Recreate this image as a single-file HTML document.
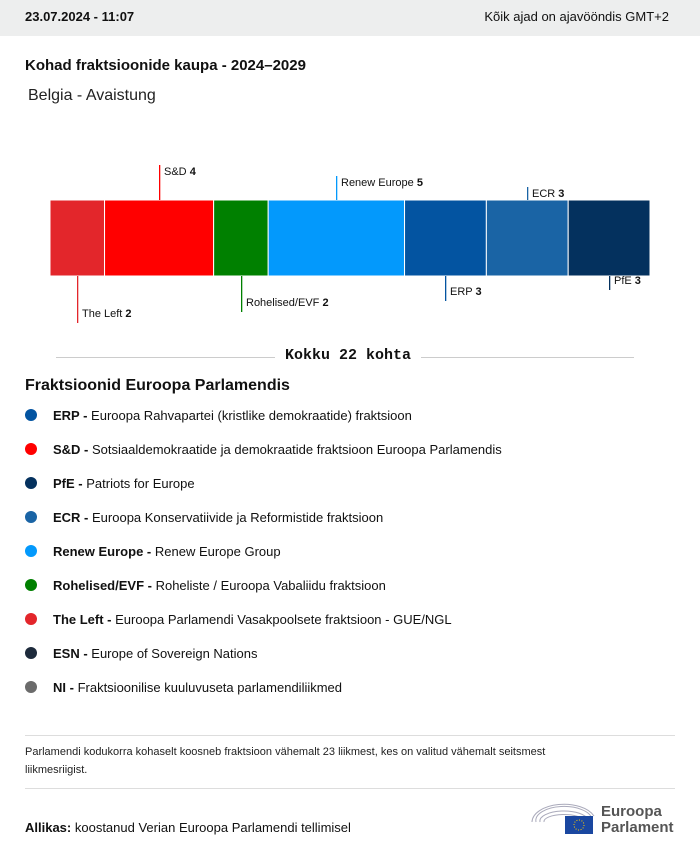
<!DOCTYPE html>
<html><head><meta charset="utf-8">
<style>
*{margin:0;padding:0;box-sizing:border-box}
body{width:700px;height:853px;background:#fff;font-family:"Liberation Sans",sans-serif;color:#111;position:relative;overflow:hidden}
.abs{position:absolute;white-space:nowrap}
.hdr{position:absolute;left:0;top:0;width:700px;height:36px;background:#edeeee}
.leg{position:absolute;left:25px;font-size:13px;white-space:nowrap}
.dot{display:inline-block;width:12px;height:12px;border-radius:50%;vertical-align:-1px;margin-right:16px}
</style></head><body>
<div class="hdr">
<div class="abs" style="left:25px;top:9px;font-size:13px;font-weight:bold">23.07.2024 - 11:07</div>
<div class="abs" style="right:31px;top:9px;font-size:13px">Kõik ajad on ajavööndis GMT+2</div>
</div>
<div class="abs" style="left:25px;top:57px;font-size:15px;font-weight:bold">Kohad fraktsioonide kaupa - 2024–2029</div>
<div class="abs" style="left:28px;top:87px;font-size:16px;color:#222">Belgia - Avaistung</div>

<svg id="chart" class="abs" style="left:0;top:150px" width="700" height="230"></svg>

<div class="abs" style="left:56px;top:357px;width:578px;height:1px;background:#ccc"></div>
<div class="abs" style="left:275px;top:347px;padding:0 10px;background:#fff;font-family:'Liberation Mono',monospace;font-weight:bold;font-size:15px">Kokku 22 kohta</div>

<div class="abs" style="left:25px;top:377px;font-size:16px;font-weight:bold">Fraktsioonid Euroopa Parlamendis</div>
<div id="legend"></div>

<div class="abs" style="left:25px;top:735px;width:650px;height:1px;background:#ddd"></div>
<div class="abs" style="left:25px;top:743px;font-size:11px;line-height:18px;white-space:normal;width:570px;color:#222">Parlamendi kodukorra kohaselt koosneb fraktsioon vähemalt 23 liikmest, kes on valitud vähemalt seitsmest liikmesriigist.</div>
<div class="abs" style="left:25px;top:788px;width:650px;height:1px;background:#ddd"></div>
<div class="abs" style="left:25px;top:820px;font-size:13px"><b>Allikas:</b> koostanud Verian Euroopa Parlamendi tellimisel</div>

<svg class="abs" style="left:530px;top:798px" width="150" height="38">
<g fill="none" stroke="#aab" stroke-width="1">
<path d="M2 24 A32 18 0 0 1 64 18"/><path d="M6 24 A28 14 0 0 1 62 21"/><path d="M10 24 A24 10 0 0 1 58 22"/><path d="M14 24 A20 7 0 0 1 54 23"/>
</g>
<rect x="35" y="18" width="28" height="18" fill="#1a47a0"/>
<circle cx="49" cy="27" r="5" fill="none" stroke="#fc0" stroke-dasharray="1 1.6"/>
<text x="71" y="18" font-size="15" fill="#555" font-weight="bold" font-family="Liberation Sans">Euroopa</text>
<text x="71" y="34" font-size="15" fill="#555" font-weight="bold" font-family="Liberation Sans">Parlament</text>
</svg>

<script>
const groups=["The Left","S&D","Rohelised/EVF","Renew Europe","ERP","ECR","PfE"];
const seats=[2,4,2,5,3,3,3];
const colors=["#e3262b","#ff0000","#008000","#0399fc","#0354a1","#1a64a5","#04315e"];
const labelSide=["below","above","below","above","below","above","below"];
const NS="http://www.w3.org/2000/svg";
const svg=document.getElementById('chart');
const total=seats.reduce((a,b)=>a+b,0);
const x0=50,x1=650,barTop=50,barH=76;
const xs=v=>x0+(x1-x0)*v/total;
let cum=0;
let aboveIdx=0,belowIdx=0;
const aboveLen=[35,24,13],belowLen=[47,36,25,14];
seats.forEach((s,i)=>{
  const a=xs(cum),b=xs(cum+s);cum+=s;
  const r=document.createElementNS(NS,'rect');
  r.setAttribute('x',a);r.setAttribute('y',barTop);r.setAttribute('width',b-a);r.setAttribute('height',barH);
  r.setAttribute('fill',colors[i]);r.setAttribute('stroke','#fff');r.setAttribute('stroke-width','1');
  
  
  svg.appendChild(r);
  const cx=Math.round((a+b)/2);
  let y1,y2,ty;
  if(labelSide[i]==='above'){const L=aboveLen[aboveIdx++];y1=barTop-L;y2=barTop;ty=y1+10;}
  else{const L=belowLen[belowIdx++];y1=barTop+barH;y2=y1+L;ty=y2-6;}
  const ln=document.createElementNS(NS,'rect');
  ln.setAttribute('x',cx);ln.setAttribute('y',y1);ln.setAttribute('width',1.3);ln.setAttribute('height',y2-y1);
  ln.setAttribute('fill',colors[i]);
  
  
  svg.appendChild(ln);
  const t=document.createElementNS(NS,'text');
  t.setAttribute('x',cx+5);t.setAttribute('y',ty);t.setAttribute('font-size','11');t.setAttribute('fill','#111');
  t.setAttribute('font-family','Liberation Sans');
  
  
  t.textContent=groups[i]+' ';
  const ts=document.createElementNS(NS,'tspan');ts.setAttribute('font-weight','bold');ts.textContent=s;t.appendChild(ts);
  svg.appendChild(t);
});
const legAbbr=["ERP","S&D","PfE","ECR","Renew Europe","Rohelised/EVF","The Left","ESN","NI"];
const legDesc=["Euroopa Rahvapartei (kristlike demokraatide) fraktsioon","Sotsiaaldemokraatide ja demokraatide fraktsioon Euroopa Parlamendis","Patriots for Europe","Euroopa Konservatiivide ja Reformistide fraktsioon","Renew Europe Group","Roheliste / Euroopa Vabaliidu fraktsioon","Euroopa Parlamendi Vasakpoolsete fraktsioon - GUE/NGL","Europe of Sovereign Nations","Fraktsioonilise kuuluvuseta parlamendiliikmed"];
const legColors=["#0354a1","#ff0000","#04315e","#1a64a5","#0399fc","#008000","#e3262b","#1d2a3b","#6b6b6b"];
const leg=document.getElementById('legend');
legAbbr.forEach((a,i)=>{
  const d=document.createElement('div');d.className='leg';d.style.top=(408+i*34)+'px';
  
  
  d.innerHTML='<span class="dot" style="background:'+legColors[i]+'"></span><b>'+a.replace('&','&amp;')+' -</b> '+legDesc[i];
  leg.appendChild(d);
});
</script>
</body></html>
